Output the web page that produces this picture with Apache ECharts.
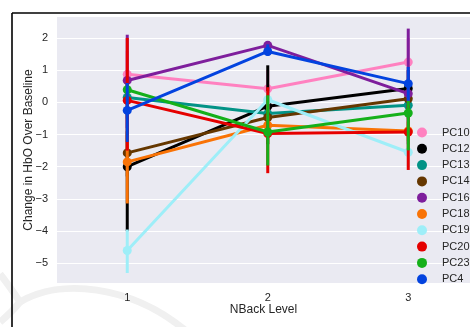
<!DOCTYPE html>
<html>
<head>
<meta charset="utf-8">
<script src="https://cdn.jsdelivr.net/npm/echarts@6/dist/echarts.min.js"></script>
<style>html,body{margin:0;padding:0;background:#fff;}#c{width:470px;height:327px;}</style>
</head>
<body>
<div id="c"></div>
<script>
var categories = ['1', '2', '3'];
var names = ['PC10', 'PC12', 'PC13', 'PC14', 'PC16', 'PC18', 'PC19', 'PC20', 'PC23', 'PC4'];
var colors = ['#ff81c0', '#000000', '#029386', '#653700', '#7e1e9c', '#f97306', '#9eeef8', '#e50000', '#15b01a', '#0343df'];
var yTicks = [-5, -4, -3, -2, -1, 0, 1, 2];

var PC10 = [0.87, 0.42, 1.25];
var PC12 = [-2.0, -0.12, 0.43];
var PC13 = [0.15, -0.35, -0.09];
var PC14 = [-1.57, -0.47, 0.11];
var PC16 = [0.68, 1.77, 0.27];
var PC18 = [-1.85, -0.71, -0.89];
var PC19 = [-4.6, 0.08, -1.55];
var PC20 = [0.06, -0.97, -0.92];
var PC23 = [0.39, -0.92, -0.33];
var PC4 = [-0.25, 1.58, 0.58];

var PC10_ci = [[0.1, 1.6], [-0.3, 1.0], [0.5, 2.0]];
var PC12_ci = [[-4.0, -0.3], [-1.3, 1.15], [-0.3, 1.0]];
var PC13_ci = [[-0.5, 0.8], [-0.9, 0.2], [-0.5, 0.3]];
var PC14_ci = [[-2.3, -0.9], [-1.0, 0.1], [-0.4, 0.6]];
var PC16_ci = [[-0.8, 2.1], [1.5, 1.88], [-1.3, 2.29]];
var PC18_ci = [[-3.14, -1.0], [-1.0, -0.4], [-1.2, -0.6]];
var PC19_ci = [[-5.3, -3.95], [-0.3, 0.35], [-2.0, -1.1]];
var PC20_ci = [[-1.5, 2.0], [-2.2, 0.47], [-2.1, -0.1]];
var PC23_ci = [[0.1, 0.55], [-1.96, 0.22], [-1.49, 0.05]];
var PC4_ci = [[-1.23, 0.6], [1.45, 1.8], [0.05, 1.1]];

var means = [PC10, PC12, PC13, PC14, PC16, PC18, PC19, PC20, PC23, PC4];
var cis = [PC10_ci, PC12_ci, PC13_ci, PC14_ci, PC16_ci, PC18_ci, PC19_ci, PC20_ci, PC23_ci, PC4_ci];
var xPos = categories.map(function (c) { return Number(c); });

var FONT = 'Liberation Sans, Arial, sans-serif';
var series = [];
names.forEach(function (n, j) {
  var col = colors[j];
  series.push({
    name: n + ' CI',
    type: 'custom',
    z: 2 * j + 3,
    silent: true,
    data: cis[j].map(function (c, i) { return [xPos[i], c[0], c[1]]; }),
    renderItem: function (params, api) {
      var p1 = api.coord([api.value(0), api.value(1)]);
      var p2 = api.coord([api.value(0), api.value(2)]);
      return {
        type: 'line',
        shape: { x1: p1[0], y1: p1[1], x2: p2[0], y2: p2[1] },
        style: { stroke: col, lineWidth: 3 }
      };
    }
  });
  series.push({
    name: n,
    type: 'line',
    z: 2 * j + 4,
    data: means[j].map(function (v, i) { return [xPos[i], v]; }),
    symbol: 'circle',
    symbolSize: 9,
    showSymbol: true,
    itemStyle: { color: col },
    lineStyle: { color: col, width: 3, cap: 'round', join: 'round' },
    emphasis: { disabled: true },
    silent: true
  });
});

var chart = echarts.init(document.getElementById('c'), null, { renderer: 'canvas' });
chart.setOption({
  animation: false,
  backgroundColor: '#ffffff',
  textStyle: { fontFamily: FONT },
  grid: {
    left: 57, top: 17, bottom: 44, right: 0,
    show: true, backgroundColor: '#eaeaf2', borderWidth: 0
  },
  xAxis: {
    type: 'value',
    min: 0.5,
    max: 3.4395,
    axisLine: { show: false },
    axisTick: { show: false, customValues: xPos },
    splitLine: { show: false },
    axisLabel: {
      customValues: xPos,
      color: '#262626', fontSize: 11, margin: 9, fontFamily: FONT,
      formatter: function (v) { return categories[xPos.indexOf(v)]; }
    },
    name: 'NBack Level',
    nameLocation: 'middle',
    nameGap: 21,
    nameMoveOverlap: false,
    nameTextStyle: { color: '#262626', fontSize: 12, fontFamily: FONT }
  },
  yAxis: {
    type: 'value',
    min: -5.61,
    max: 2.65,
    axisLine: { show: false },
    axisTick: { show: false, customValues: yTicks },
    axisLabel: {
      customValues: yTicks,
      color: '#262626', fontSize: 11, margin: 9, fontFamily: FONT,
      formatter: function (v) { return String(v).replace('-', '\u2212'); }
    },
    splitLine: { show: true, lineStyle: { color: '#ffffff', width: 1.2 } },
    name: 'Change in HbO Over Baseline',
    nameLocation: 'middle',
    nameGap: 22,
    nameMoveOverlap: false,
    nameTextStyle: { color: '#262626', fontSize: 12, fontFamily: FONT }
  },
  legend: {
    data: names.map(function (n) { return { name: n, icon: 'circle' }; }),
    orient: 'vertical',
    left: 417,
    top: 127,
    padding: 0,
    itemWidth: 10,
    itemHeight: 10,
    itemGap: 5.3,
    selectedMode: false,
    textStyle: { color: '#262626', fontSize: 11, padding: [0, 0, 0, 10], fontFamily: FONT }
  },
  graphic: [
    { type: 'bezierCurve', z: -1, silent: true, shape: { x1: 0, y1: 274, x2: 20, y2: 302, cpx1: 8, cpy1: 284 }, style: { stroke: '#f0f0f0', lineWidth: 7, fill: null } },
    { type: 'bezierCurve', z: -1, silent: true, shape: { x1: 20, y1: 302, x2: 0, y2: 322, cpx1: 12, cpy1: 312 }, style: { stroke: '#f0f0f0', lineWidth: 7, fill: null } },
    { type: 'bezierCurve', z: -1, silent: true, shape: { x1: 20, y1: 302, x2: 185, y2: 330, cpx1: 60, cpy1: 278, cpx2: 130, cpy2: 285 }, style: { stroke: '#f0f0f0', lineWidth: 7, fill: null } },
    { type: 'line', z: 100, silent: true, shape: { x1: 12, y1: 13, x2: 470, y2: 13 }, style: { stroke: '#000', lineWidth: 1.6 } },
    { type: 'line', z: 100, silent: true, shape: { x1: 12, y1: 13, x2: 12, y2: 327 }, style: { stroke: '#000', lineWidth: 1.6 } }
  ],
  series: series
});
</script>
</body>
</html>
